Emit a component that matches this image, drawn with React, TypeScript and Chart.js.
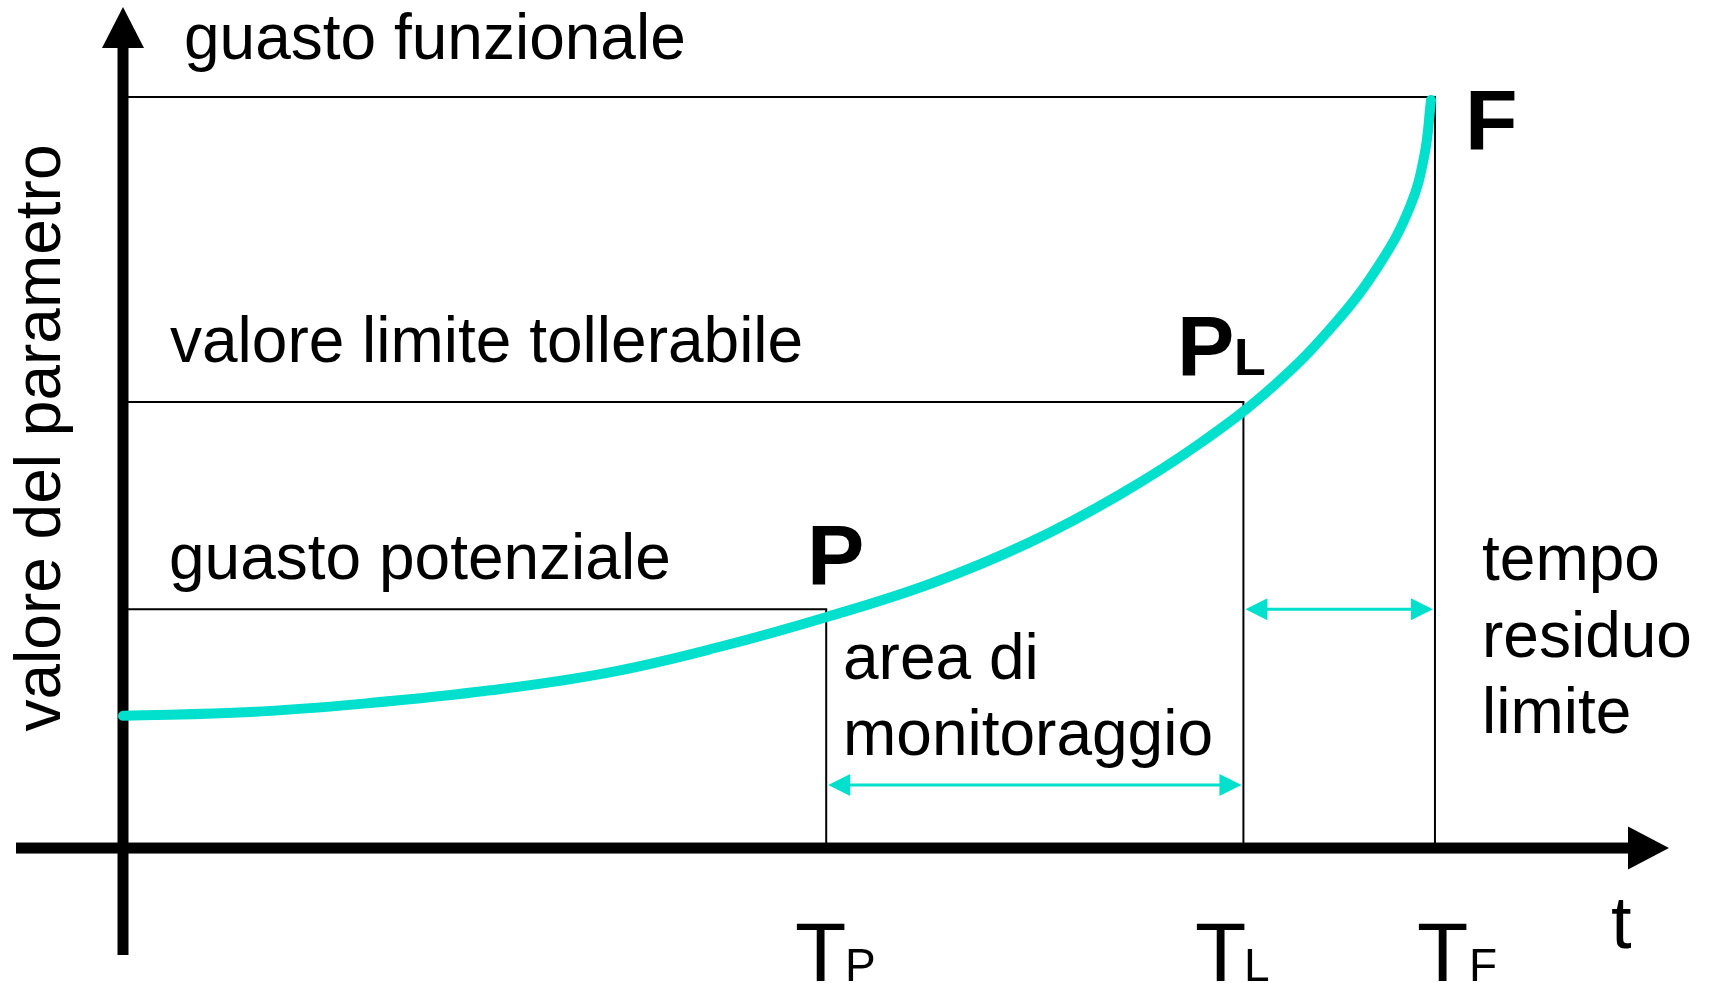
import React, { useEffect, useRef } from "react";
import { Chart, registerables } from "chart.js";

Chart.register(...registerables);

// Time instants (percent of T_F) and parameter levels (percent of functional failure)
const T_P = 53.6;
const T_L = 85.4;
const T_F = 100;
const LEVEL_POTENTIAL = 31.8;
const LEVEL_LIMIT = 59.4;
const LEVEL_FAILURE = 100;
const MONITOR_ARROW_LEVEL = 8.4;

// Degradation curve (P-F curve)
const curveT = [0, 9.7, 18.8, 28.0, 37.1, 45.5, 53.7, 61.7, 69.1, 76.0, 82.1, 87.8, 92.4, 95.8, 98.1, 99.2, 99.7];
const curveV = [17.6, 18.1, 19.3, 21.0, 23.4, 26.8, 30.8, 35.3, 40.7, 47.1, 53.9, 61.7, 69.9, 77.8, 85.4, 92.3, 99.6];

// Labels
const levelLabels = ["guasto funzionale", "valore limite tollerabile", "guasto potenziale"];
const yAxisTitle = "valore del parametro";
const xAxisTitle = "t";
const monitorLabel = ["area di", "monitoraggio"];
const residualLabel = ["tempo", "residuo", "limite"];

const CYAN = "#00e0cc";
const FONT = '"Liberation Sans", Arial, Helvetica, sans-serif';

const axesPlugin = {
  id: "axesPlugin",
  beforeDatasetsDraw(chart: any) {
    const ctx = chart.ctx;
    const xs = chart.scales.x;
    const ys = chart.scales.y;
    const x0 = xs.getPixelForValue(0);
    const y0 = ys.getPixelForValue(0);
    ctx.save();
    ctx.fillStyle = "#000";
    // vertical axis
    ctx.fillRect(x0 - 5.5, 46, 11, 955 - 46);
    ctx.beginPath();
    ctx.moveTo(x0 - 21, 48);
    ctx.lineTo(x0 + 21, 48);
    ctx.lineTo(x0, 7);
    ctx.closePath();
    ctx.fill();
    // horizontal axis
    ctx.fillRect(16, y0 - 5.5, 1630 - 16, 11);
    ctx.beginPath();
    ctx.moveTo(1628, y0 - 21.5);
    ctx.lineTo(1628, y0 + 21.5);
    ctx.lineTo(1669, y0);
    ctx.closePath();
    ctx.fill();
    ctx.restore();
  },
  afterDatasetsDraw(chart: any) {
    const ctx = chart.ctx;
    const xs = chart.scales.x;
    const ys = chart.scales.y;
    const px = (v: number) => xs.getPixelForValue(v);
    const py = (v: number) => ys.getPixelForValue(v);

    const dblArrow = (xa: number, xb: number, y: number) => {
      const len = 22;
      const hw = 11;
      ctx.save();
      ctx.strokeStyle = CYAN;
      ctx.fillStyle = CYAN;
      ctx.lineWidth = 3;
      ctx.beginPath();
      ctx.moveTo(xa + len - 2, y);
      ctx.lineTo(xb - len + 2, y);
      ctx.stroke();
      ctx.beginPath();
      ctx.moveTo(xa, y);
      ctx.lineTo(xa + len, y - hw);
      ctx.lineTo(xa + len, y + hw);
      ctx.closePath();
      ctx.fill();
      ctx.beginPath();
      ctx.moveTo(xb, y);
      ctx.lineTo(xb - len, y - hw);
      ctx.lineTo(xb - len, y + hw);
      ctx.closePath();
      ctx.fill();
      ctx.restore();
    };
    dblArrow(px(T_P) + 2, px(T_L) - 2, py(MONITOR_ARROW_LEVEL));
    dblArrow(px(T_L) + 2, px(T_F) - 2, py(LEVEL_POTENTIAL));

    ctx.save();
    ctx.fillStyle = "#000";
    ctx.textBaseline = "alphabetic";
    ctx.textAlign = "left";
    ctx.font = `64px ${FONT}`;
    ctx.fillText(levelLabels[0], 184, 59);
    ctx.fillText(levelLabels[1], 170, 362);
    ctx.fillText(levelLabels[2], 169, 579);
    ctx.fillText(monitorLabel[0], 843, 679);
    ctx.fillText(monitorLabel[1], 843, 755);
    ctx.fillText(residualLabel[0], 1482, 580);
    ctx.fillText(residualLabel[1], 1482, 657);
    ctx.fillText(residualLabel[2], 1482, 733);

    // rotated y-axis title
    ctx.save();
    ctx.translate(60, 438);
    ctx.rotate(-Math.PI / 2);
    ctx.textAlign = "center";
    ctx.fillText(yAxisTitle, 0, 0);
    ctx.restore();

    // point labels
    ctx.font = `bold 86px ${FONT}`;
    ctx.fillText("P", 807, 585);
    ctx.fillText("F", 1465, 150);
    ctx.fillText("P", 1177, 376);
    ctx.font = `bold 52px ${FONT}`;
    ctx.fillText("L", 1234, 375);

    // time labels
    ctx.font = `84px ${FONT}`;
    ctx.fillText("T", 795, 981);
    ctx.fillText("T", 1195, 981);
    ctx.fillText("T", 1417, 981);
    ctx.font = `46px ${FONT}`;
    ctx.fillText("P", 845, 981);
    ctx.fillText("L", 1244, 981);
    ctx.fillText("F", 1469, 981);
    ctx.font = `74px ${FONT}`;
    ctx.fillText(xAxisTitle, 1611, 948);
    ctx.restore();
  },
};

export default function App() {
  const ref = useRef<HTMLCanvasElement | null>(null);
  useEffect(() => {
    if (!ref.current) return;
    const curve = curveT.map((t, i) => ({ x: t, y: curveV[i] }));
    const lineStyle = {
      showLine: true,
      borderColor: "#000",
      borderWidth: 2,
      pointRadius: 0,
      fill: false,
      tension: 0,
    };
    const chart = new Chart(ref.current, {
      type: "scatter",
      data: {
        datasets: [
          {
            data: curve,
            showLine: true,
            borderColor: CYAN,
            borderWidth: 10,
            borderCapStyle: "round",
            borderJoinStyle: "round",
            pointRadius: 0,
            tension: 0.4,
            fill: false,
          } as any,
          { ...lineStyle, data: [{ x: 0, y: LEVEL_FAILURE }, { x: T_F, y: LEVEL_FAILURE }, { x: T_F, y: 0 }] },
          { ...lineStyle, data: [{ x: 0, y: LEVEL_LIMIT }, { x: T_L, y: LEVEL_LIMIT }, { x: T_L, y: 0 }] },
          { ...lineStyle, data: [{ x: 0, y: LEVEL_POTENTIAL }, { x: T_P, y: LEVEL_POTENTIAL }, { x: T_P, y: 0 }] },
        ],
      },
      options: {
        animation: false,
        responsive: false,
        devicePixelRatio: 1,
        layout: { padding: 0 },
        plugins: { legend: { display: false }, tooltip: { enabled: false } },
        events: [],
        scales: {
          x: { type: "linear", display: false, min: -9.375, max: 121.04 },
          y: { type: "linear", display: false, min: -17.97, max: 112.92 },
        },
      },
      plugins: [axesPlugin],
    });
    return () => chart.destroy();
  }, []);
  return (
    <div style={{ position: "fixed", left: 0, top: 0, width: 1711, height: 983, background: "#fff" }}>
      <canvas ref={ref} width={1711} height={983} style={{ display: "block" }} />
    </div>
  );
}
